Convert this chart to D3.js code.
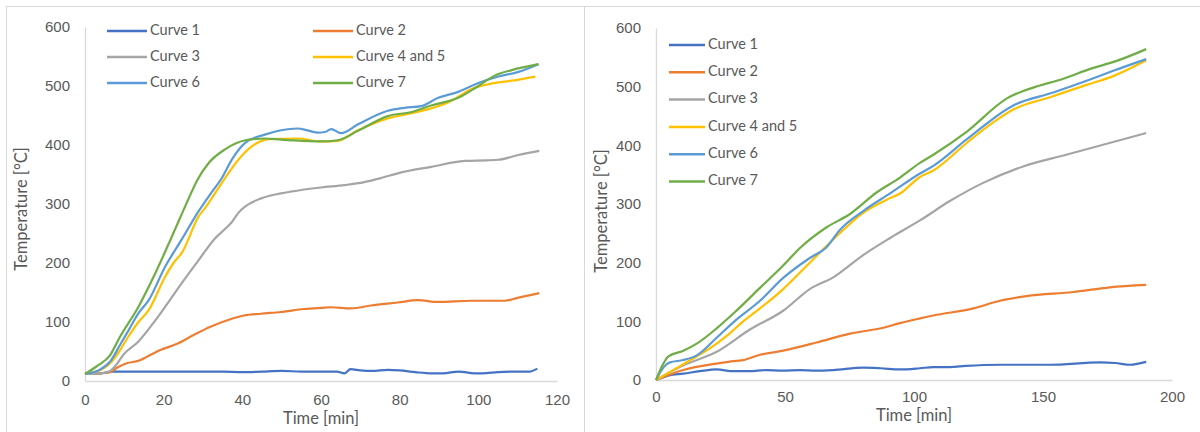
<!DOCTYPE html>
<html>
<head>
<meta charset="utf-8">
<script src="https://cdn.jsdelivr.net/npm/d3@7"></script>
<style>
  body { margin: 0; background: #fff; }
  svg { display: block; font-family: Lato, "Open Sans", sans-serif; }
</style>
</head>
<body>
<svg id="chart" width="1200" height="432"></svg>
<script>
// series names and colours (Excel office palette)
const seriesNames = ["Curve 1", "Curve 2", "Curve 3", "Curve 4 and 5", "Curve 6", "Curve 7"];
const seriesColors = ["#4472C4", "#ED7D31", "#A5A5A5", "#FFC000", "#5B9BD5", "#70AD47"];

// left chart: [time min, temperature C]
const leftCurve1 = [[0,12],[4,13],[7,16],[15,16],[25,16],[35,16],[40,15],[45,16],[50,17],[55,16],[60,16],[64,16],[66,13],[67.5,20],[70,18],[73,17],[77,19],[80,18],[84,15],[88,13],[91,13],[95,16],[99,13],[101,13],[105,15],[110,16],[113,16],[115,21]];
const leftCurve2 = [[0,12],[4,13],[6.4,15],[8,22],[10.6,30],[14,35],[16,42],[19,52],[23.4,63],[27.6,78],[31.9,92],[36.2,103],[40.4,111],[44.7,114],[49.8,117],[55.7,122],[60,124],[62.6,125],[67.6,123],[72.7,128],[79.5,133],[84.6,137],[89.8,134],[98.3,136],[106.8,136],[110,141],[115.5,149]];
const leftCurve3 = [[0,12],[4,13],[6.4,17],[8,28],[9.8,45],[13.6,67],[17,95],[20.4,126],[24.6,166],[28.9,205],[33.1,242],[36,260],[37.4,270],[39,285],[40.8,296],[45,310],[49.8,318],[52.3,321],[60,328],[66,332],[71,337],[75.3,344],[79.5,352],[88,363],[96.6,373],[102,374],[105.1,375],[110.2,383],[115.5,390]];
const leftCurve45 = [[0,12],[4.6,21],[6.4,30],[8.9,52],[11,75],[13.6,100],[16.2,120],[20.4,177],[22.5,200],[24.6,217],[28.9,279],[30.6,294],[34.8,336],[39.1,376],[42.5,398],[46.8,410],[54,411],[60,406],[64.2,407],[69.4,425],[77,445],[83,454],[88,462],[93.2,475],[98.3,495],[102.5,503],[108.5,509],[114.5,516]];
const leftCurve6 = [[0,12],[4,20],[6.4,33],[8.9,61],[11,85],[13.6,115],[16.2,137],[20.4,194],[24.6,240],[28.9,288],[32,318],[34.8,344],[37.4,376],[40.8,404],[45.9,418],[49.8,425],[54,428],[57,424],[59.2,421],[61,422],[62.6,427],[65.1,420],[69.4,435],[77,458],[81.3,463],[85.5,466],[89.8,480],[94.9,490],[100,505],[105.1,516],[110.2,524],[115.3,537]];
const leftCurve7 = [[0,12],[3,25],[6.4,44],[8.9,75],[13.6,126],[17.9,183],[22.1,245],[26.4,310],[28.5,340],[31.5,370],[35.7,393],[40.8,408],[45.9,411],[49.8,409],[52.3,408],[60,406],[64.2,408],[69.4,424],[77,449],[83,456],[88,467],[94.9,480],[100,500],[104.3,518],[108.5,527],[115.3,537]];

// right chart: [time min, temperature C]
const rightCurve1 = [[0,0],[5,8],[10.6,11],[17,15],[23.5,18],[29.9,15],[36,15],[42.8,17],[49,16],[55.8,17],[62,16],[68.7,17],[80.3,21],[87,20],[94.5,18],[102.3,20],[107.5,22],[113.9,22],[120,24],[133.3,26],[152.7,26],[172,30],[178,29],[183.7,26],[187,28],[190,31]];
const rightCurve2 = [[0,0],[10.6,17],[23.5,28],[28,31],[33.8,34],[40.3,43],[49.3,50],[62.3,64],[75.2,79],[88.1,89],[94.6,97],[102.3,105],[107.5,110],[123,122],[133.3,135],[143.6,143],[161.7,150],[175.9,158],[190,162]];
const rightCurve3 = [[0,0],[10.6,25],[23.5,48],[36.4,86],[49.3,118],[59.6,155],[68.7,175],[80.3,213],[90.7,242],[102.3,272],[113.9,305],[126.8,336],[142.3,364],[159,384],[190,421]];
const rightCurve45 = [[0,0],[10.6,27],[23.5,62],[28.7,80],[33,97],[40.3,122],[49.3,155],[59.6,200],[70,245],[80.3,285],[90.7,310],[94.6,318],[102.3,346],[107.5,357],[120.4,404],[130.7,439],[138.5,461],[152.7,482],[166.9,503],[177.2,518],[190,545]];
const rightCurve6 = [[0,0],[3,22],[5.4,30],[10.6,34],[15.8,42],[23.5,72],[30.4,100],[40.3,135],[49.3,174],[59.6,208],[66,226],[71.1,255],[80.3,288],[90.7,318],[102.3,352],[107.5,365],[120.4,410],[138.5,468],[154,490],[166.9,510],[177.2,527],[190,547]];
const rightCurve7 = [[0,0],[2.5,25],[4.7,40],[10.6,50],[15.8,62],[23.5,88],[30.4,115],[40.3,157],[49.3,195],[55.8,225],[66,260],[75.2,283],[85.6,320],[94.6,345],[102.3,370],[107.5,384],[120.4,423],[136,480],[148.8,502],[155.3,510],[169.5,532],[178.6,544],[190,564]];

const leftTicksX = [0, 20, 40, 60, 80, 100, 120];
const rightTicksX = [0, 50, 100, 150, 200];
const ticksY = [0, 100, 200, 300, 400, 500, 600];

const textColor = "#595959";
const axisColor = "#D9D9D9";

const svg = d3.select("#chart");

// panel frames
svg.append("rect").attr("x", 6.5).attr("y", 6.5).attr("width", 578).attr("height", 440)
    .attr("fill", "none").attr("stroke", axisColor);
svg.append("rect").attr("x", 584.5).attr("y", 6.5).attr("width", 630).attr("height", 440)
    .attr("fill", "none").attr("stroke", axisColor);

function drawPanel(p) {
    const x = d3.scaleLinear().domain(p.xDomain).range(p.xRange);
    const y = d3.scaleLinear().domain([0, 600]).range(p.yRange);
    const g = svg.append("g");

    const yAxis = g.append("g")
        .attr("transform", "translate(" + p.xRange[0] + ",0)")
        .call(d3.axisLeft(y).tickValues(ticksY).tickSize(0).tickPadding(15));
    const xAxis = g.append("g")
        .attr("transform", "translate(0," + p.yRange[0] + ")")
        .call(d3.axisBottom(x).tickValues(p.xTicks).tickSize(0).tickPadding(p.xTickPad));
    [xAxis, yAxis].forEach(a => {
        a.select(".domain").attr("stroke", axisColor).attr("stroke-width", 1.3);
        a.selectAll("text").attr("fill", textColor).style("font-size", "15px");
    });

    // axis titles
    g.append("text")
        .attr("x", (p.xRange[0] + p.xRange[1]) / 2)
        .attr("y", p.xTitleY)
        .attr("text-anchor", "middle")
        .attr("dominant-baseline", "middle")
        .attr("fill", textColor)
        .style("font-size", "16.5px")
        .text("Time [min]");
    g.append("text")
        .attr("transform", "translate(" + p.yTitleX + "," + p.yTitleY + ") rotate(-90)")
        .attr("text-anchor", "middle")
        .attr("dominant-baseline", "middle")
        .attr("fill", textColor)
        .style("font-size", "16.5px")
        .text("Temperature [°C]");

    const line = d3.line()
        .x(d => x(d[0]))
        .y(d => y(d[1]))
        .curve(d3.curveMonotoneX);

    p.series.forEach((s, i) => {
        g.append("path")
            .datum(s)
            .attr("d", line)
            .attr("fill", "none")
            .attr("stroke", seriesColors[i])
            .attr("stroke-width", 2.2)
            .attr("stroke-linejoin", "round");
    });

    // legend
    seriesNames.forEach((name, i) => {
        const pos = p.legendPos(i);
        g.append("line")
            .attr("x1", pos.x).attr("x2", pos.x + p.legendLine)
            .attr("y1", pos.y).attr("y2", pos.y)
            .attr("stroke", seriesColors[i])
            .attr("stroke-width", 2.5);
        g.append("text")
            .attr("x", pos.x + p.legendLine + 3)
            .attr("y", pos.y)
            .attr("dominant-baseline", "middle")
            .attr("fill", textColor)
            .style("font-size", "14.5px")
            .text(name);
    });
}

drawPanel({
    xDomain: [0, 120], xRange: [85, 557], yRange: [381, 27], xTicks: leftTicksX, xTickPad: 13,
    series: [leftCurve1, leftCurve2, leftCurve3, leftCurve45, leftCurve6, leftCurve7],
    xTitleY: 420, yTitleX: 23, yTitleY: 209,
    legendLine: 40,
    legendPos: i => ({ x: i % 2 === 0 ? 107 : 313, y: 31 + Math.floor(i / 2) * 26 })
});

drawPanel({
    xDomain: [0, 200], xRange: [656, 1172], yRange: [380, 28], xTicks: rightTicksX, xTickPad: 11,
    series: [rightCurve1, rightCurve2, rightCurve3, rightCurve45, rightCurve6, rightCurve7],
    xTitleY: 417, yTitleX: 603, yTitleY: 211,
    legendLine: 36,
    legendPos: i => ({ x: 669, y: 45 + i * 27.3 })
});
</script>
</body>
</html>
